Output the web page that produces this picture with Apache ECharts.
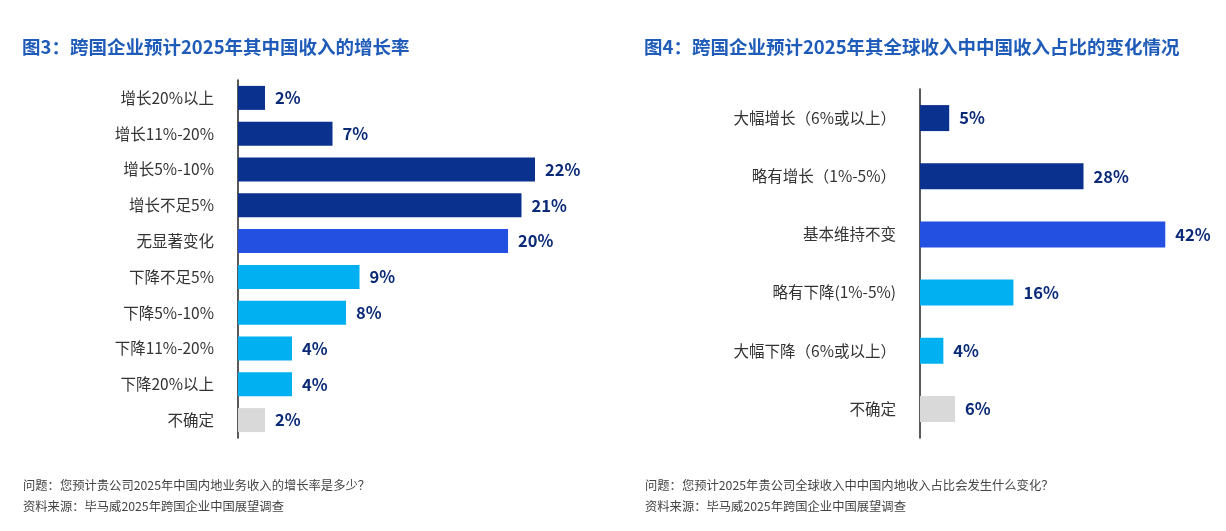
<!DOCTYPE html>
<html><head><meta charset="utf-8">
<script src="https://cdn.jsdelivr.net/npm/echarts@6/dist/echarts.min.js"></script>
<style>html,body{margin:0;padding:0;background:#fff}#c{width:1226px;height:531px}</style>
</head><body><div id="c"></div>
<script>
const leftCats=['增长20%以上','增长11%-20%','增长5%-10%','增长不足5%','无显著变化','下降不足5%','下降5%-10%','下降11%-20%','下降20%以上','不确定'];
const leftVals=[2,7,22,21,20,9,8,4,4,2];
const leftGroup=[0,0,0,0,1,2,2,2,2,3];
const rightCats=['大幅增长（6%或以上）','略有增长（1%-5%）','基本维持不变','略有下降(1%-5%)','大幅下降（6%或以上）','不确定'];
const rightVals=[5,28,42,16,4,6];
const rightGroup=[0,0,1,2,2,3];
const palette=['#0b318f','#2350e0','#00b0f0','#d9d9d9'];
const font='"Noto Sans CJK SC","Noto Sans",sans-serif';
const chart=echarts.init(document.getElementById('c'));
function mk(vals,grp){return vals.map((v,i)=>({value:v,itemStyle:{color:palette[grp[i]]}}));}
const catAxis=(cats,gi)=>({type:'category',gridIndex:gi,data:cats,inverse:true,
 axisLine:{lineStyle:{color:'#222',width:1.5}},axisTick:{show:false},
 axisLabel:{color:'#333',fontSize:15.5,fontFamily:font,margin:24}});
const valAxis=(max,gi)=>({type:'value',gridIndex:gi,min:0,max:max,show:false});
const lbl={show:true,position:'right',distance:10,formatter:'{c}%',color:'#0b2a78',fontWeight:'bold',fontSize:16.5,fontFamily:font};
chart.setOption({
 animation:false,
 textStyle:{fontFamily:font},
 title:[
  {text:'图3：跨国企业预计2025年其中国收入的增长率',left:17,top:33,textStyle:{color:'#1f5bb8',fontSize:18.5,fontWeight:'bold',fontFamily:font}},
  {text:'图4：跨国企业预计2025年其全球收入中中国收入占比的变化情况',left:639,top:33,textStyle:{color:'#1f5bb8',fontSize:18.5,fontWeight:'bold',fontFamily:font}},
  {text:'问题：您预计贵公司2025年中国内地业务收入的增长率是多少？\n资料来源：毕马威2025年跨国企业中国展望调查',left:18,top:470,textStyle:{color:'#444',fontSize:12.3,fontWeight:'normal',lineHeight:21,fontFamily:font}},
  {text:'问题：您预计2025年贵公司全球收入中中国内地收入占比会发生什么变化？\n资料来源：毕马威2025年跨国企业中国展望调查',left:640,top:470,textStyle:{color:'#444',fontSize:12.3,fontWeight:'normal',lineHeight:21,fontFamily:font}}
 ],
 grid:[{left:238,top:80,width:405,height:358},{left:920,top:89,width:292,height:349}],
 yAxis:[catAxis(leftCats,0),catAxis(rightCats,1)],
 xAxis:[valAxis(30,0),valAxis(50,1)],
 series:[
  {type:'bar',xAxisIndex:0,yAxisIndex:0,data:mk(leftVals,leftGroup),barWidth:24,label:lbl},
  {type:'bar',xAxisIndex:1,yAxisIndex:1,data:mk(rightVals,rightGroup),barWidth:26,label:lbl}
 ]
});
</script></body></html>
